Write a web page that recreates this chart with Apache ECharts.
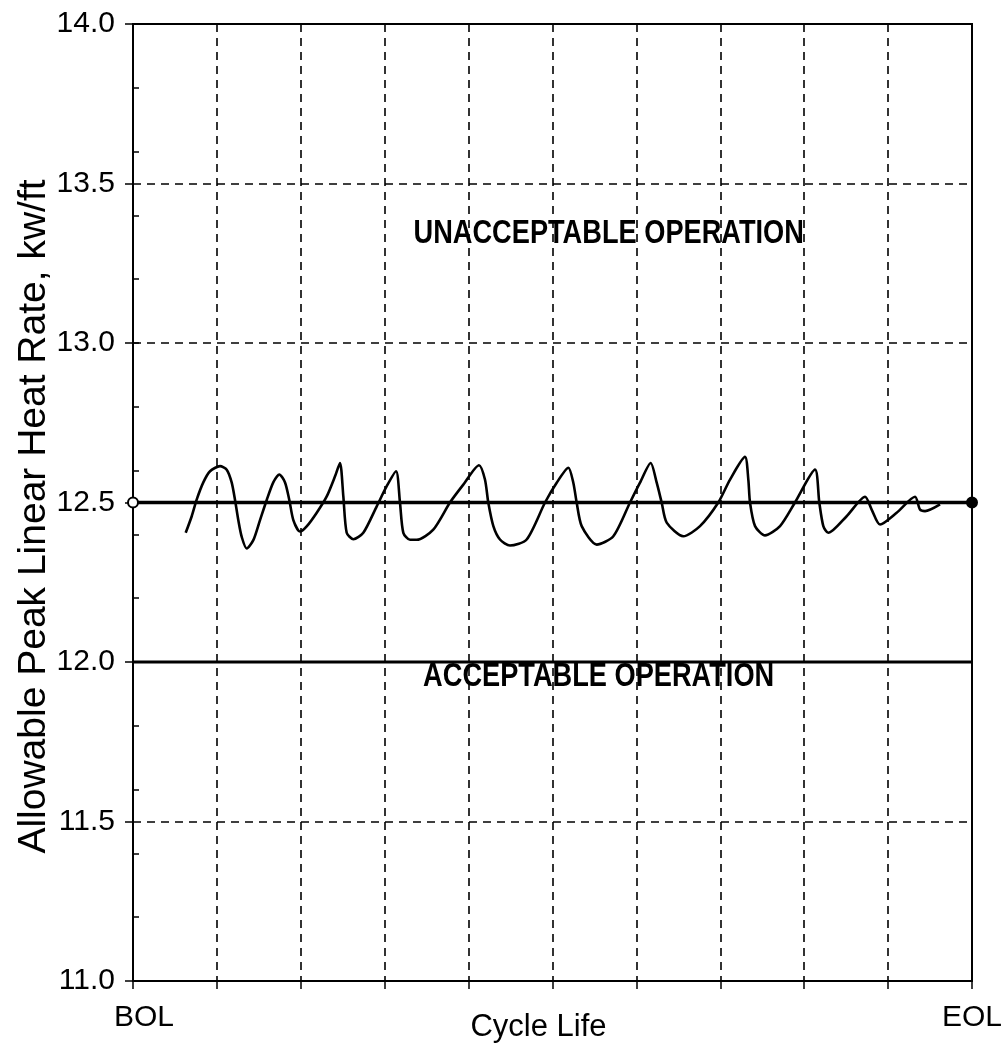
<!DOCTYPE html>
<html>
<head>
<meta charset="utf-8">
<script src="https://cdn.jsdelivr.net/npm/echarts@6/dist/echarts.min.js"></script>
<style>html,body{margin:0;padding:0;background:#fff}#c{width:1001px;height:1051px}</style>
</head>
<body>
<div id="c"></div>
<script>
// ---- data ----
const xTickLabels = ['BOL', '', '', '', '', '', '', '', '', '', 'EOL'];
const yTickValues = [11.0, 11.5, 12.0, 12.5, 13.0, 13.5, 14.0];
const cycleX = [0.628, 0.700, 0.759, 0.838, 0.918, 1.037, 1.117, 1.176, 1.216, 1.255, 1.296, 1.355, 1.434, 1.514, 1.594, 1.672, 1.744, 1.812, 1.863, 1.911, 1.990, 2.070, 2.190, 2.309, 2.408, 2.467, 2.507, 2.547, 2.626, 2.745, 2.905, 3.024, 3.135, 3.182, 3.222, 3.302, 3.381, 3.579, 3.778, 3.937, 4.124, 4.195, 4.235, 4.295, 4.374, 4.493, 4.692, 4.911, 5.050, 5.189, 5.248, 5.288, 5.348, 5.527, 5.725, 5.924, 6.043, 6.170, 6.242, 6.301, 6.361, 6.559, 6.758, 6.976, 7.116, 7.294, 7.334, 7.354, 7.414, 7.533, 7.712, 7.890, 8.129, 8.180, 8.228, 8.287, 8.506, 8.725, 8.804, 8.904, 9.102, 9.321, 9.380, 9.440, 9.619];
const cycleY = [12.405, 12.457, 12.509, 12.563, 12.598, 12.614, 12.603, 12.563, 12.508, 12.445, 12.392, 12.356, 12.382, 12.445, 12.508, 12.563, 12.588, 12.563, 12.508, 12.445, 12.409, 12.425, 12.468, 12.519, 12.582, 12.624, 12.519, 12.405, 12.385, 12.405, 12.488, 12.551, 12.598, 12.500, 12.405, 12.383, 12.383, 12.415, 12.500, 12.556, 12.617, 12.572, 12.499, 12.426, 12.384, 12.365, 12.384, 12.500, 12.562, 12.609, 12.562, 12.500, 12.426, 12.368, 12.394, 12.500, 12.562, 12.624, 12.562, 12.500, 12.437, 12.394, 12.426, 12.500, 12.572, 12.643, 12.572, 12.500, 12.426, 12.397, 12.426, 12.500, 12.603, 12.500, 12.426, 12.405, 12.457, 12.518, 12.478, 12.431, 12.468, 12.518, 12.478, 12.473, 12.494];
const limitUpper = 12.5;
const limitLower = 12.0;
const xRange = [0, 10];
const annotations = [
  { text: 'UNACCEPTABLE OPERATION', x: 5.67, y: 13.343 },
  { text: 'ACCEPTABLE OPERATION', x: 5.55, y: 11.955 }
];

const chart = echarts.init(document.getElementById('c'), null, { renderer: 'canvas' });
const sans = "'Liberation Sans', Arial, sans-serif";
const dash = { color: '#000', width: 1.6, type: [8, 6] };

const option = {
  backgroundColor: '#fff',
  animation: false,
  grid: { left: 133, right: 29, top: 24, bottom: 70, show: true, borderColor: '#000', borderWidth: 2, containLabel: false, outerBoundsMode: 'none' },
  xAxis: {
    type: 'value', min: xRange[0], max: xRange[1], interval: 1,
    name: 'Cycle Life', nameLocation: 'middle', nameGap: 31, nameMoveOverlap: false,
    nameTextStyle: { fontFamily: sans, fontSize: 31, color: '#000', padding: [0, 28, 0, 0] },
    axisLine: { lineStyle: { color: '#000', width: 2 } },
    axisTick: { show: true, length: 8, lineStyle: { color: '#000', width: 1.5 } },
    axisLabel: {
      margin: 22, color: '#000', fontFamily: sans, fontSize: 30,
      formatter: v => {
        const s = xTickLabels[Math.round(v)] || '';
        return s === 'BOL' ? '{b|BOL}' : s;
      },
      rich: { b: { fontFamily: sans, fontSize: 30, color: '#000', padding: [0, 0, 0, 22] } }
    },
    splitLine: { show: true, lineStyle: dash }
  },
  yAxis: [{
    type: 'value', min: 11, max: 14, interval: 0.5,
    name: 'Allowable Peak Linear Heat Rate, kw/ft', nameLocation: 'middle', nameGap: 79, nameMoveOverlap: false,
    nameTextStyle: { fontFamily: sans, fontSize: 39, color: '#000', padding: [0, 28, 0, 0] },
    axisLine: { show: true, lineStyle: { color: '#000', width: 2 } },
    axisTick: { show: true, length: 8, lineStyle: { color: '#000', width: 1.5 } },
    axisLabel: { margin: 18, color: '#000', fontFamily: sans, fontSize: 30, formatter: v => (yTickValues.indexOf(+v.toFixed(1)) >= 0 ? v.toFixed(1) : '') },
    splitLine: { show: true, lineStyle: dash }
  }, {
    type: 'value', min: 11, max: 14, interval: 0.2, position: 'left',
    axisLine: { show: false }, axisLabel: { show: false }, splitLine: { show: false },
    axisTick: { show: true, inside: true, length: 6, lineStyle: { color: '#000', width: 1.5 } }
  }],
  series: [
    {
      type: 'line', name: 'upper', yAxisIndex: 0, z: 3,
      data: [
        { value: [xRange[0], limitUpper], symbol: 'emptyCircle' },
        { value: [xRange[1], limitUpper], symbol: 'circle' }
      ],
      symbolSize: 10, itemStyle: { color: '#000', borderColor: '#000', borderWidth: 2 },
      lineStyle: { color: '#000', width: 3.5 }
    },
    {
      type: 'line', name: 'lower', yAxisIndex: 0, z: 3,
      data: [[xRange[0], limitLower], [xRange[1], limitLower]],
      showSymbol: false, symbol: 'none',
      lineStyle: { color: '#000', width: 3 }
    },
    {
      type: 'line', name: 'curve', yAxisIndex: 0, z: 4,
      data: cycleX.map((x, i) => [x, cycleY[i]]),
      showSymbol: false, symbol: 'none', smooth: 0.25,
      lineStyle: { color: '#000', width: 2.6 }
    }
  ]
};
chart.setOption(option);

const graphics = annotations.map(a => {
  const p = chart.convertToPixel({ xAxisIndex: 0, yAxisIndex: 0 }, [a.x, a.y]);
  return {
    type: 'text', x: p[0], y: p[1], scaleX: 0.8, z: 10,
    style: { text: a.text, fill: '#000', font: "bold 34px 'Liberation Sans', Arial, sans-serif", align: 'center', verticalAlign: 'middle' }
  };
});
chart.setOption({ graphic: graphics });
</script>
</body>
</html>
